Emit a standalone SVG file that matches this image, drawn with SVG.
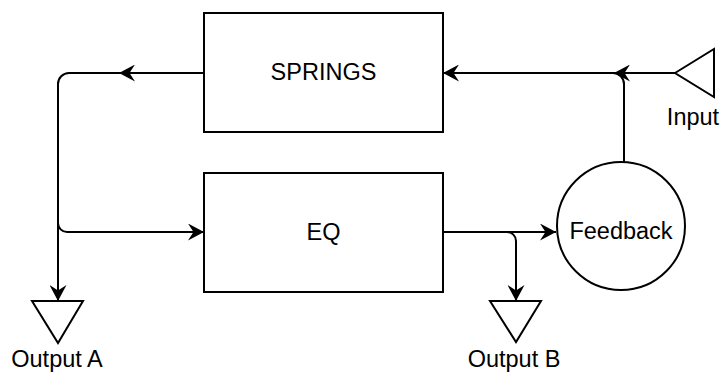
<svg xmlns="http://www.w3.org/2000/svg" width="721" height="372" viewBox="0 0 721 372">
  <style>
    .shape { fill: #ffffff; stroke: #000000; stroke-width: 2; }
    .edge { fill: none; stroke: #000000; stroke-width: 2; }
    .arrow { marker-end: url(#head); }
    .label { font-family: "Liberation Sans", Arial, sans-serif; font-size: 23.5px; fill: #000000; text-anchor: middle; }
  </style>
  <defs>
    <marker id="head" markerUnits="userSpaceOnUse" markerWidth="17" markerHeight="17" viewBox="0 0 17 17" refX="16" refY="8.5" orient="auto">
      <path d="M16,8.5 L0,0 L5.5,8.5 L0,17 Z" fill="#000000"/>
    </marker>
  </defs>

  <g id="connectors">
    <!-- SPRINGS output -->
    <path class="edge arrow" d="M204,73 H119"/>
    <path class="edge arrow" d="M204,73 H69 A11,11 0 0 0 58,84 V301"/>
    <path class="edge arrow" d="M58,223 A9,9 0 0 0 67,232 H204"/>
    <!-- Input into SPRINGS -->
    <path class="edge arrow" d="M675,73 H614"/>
    <path class="edge arrow" d="M675,73 H443"/>
    <!-- Feedback back into SPRINGS -->
    <path class="edge" d="M624,162 V84 A11,11 0 0 0 613,73 H443"/>
    <!-- EQ output -->
    <path class="edge arrow" d="M443,232 H556"/>
    <path class="edge arrow" d="M443,232 H507 A9,9 0 0 1 516,241 V301"/>
  </g>

  <g id="springs">
    <rect class="shape" x="204" y="13" width="239" height="119"/>
    <text class="label" x="323.5" y="80">SPRINGS</text>
  </g>

  <g id="eq">
    <rect class="shape" x="204" y="173" width="239" height="119"/>
    <text class="label" x="323.5" y="240">EQ</text>
  </g>

  <g id="feedback">
    <circle class="shape" cx="621" cy="226" r="64"/>
    <text class="label" x="621" y="239">Feedback</text>
  </g>

  <g id="input">
    <polygon class="shape" points="675,73 714,49 714,97"/>
    <text class="label" x="693" y="125">Input</text>
  </g>

  <g id="output-a">
    <polygon class="shape" points="32,301 83,301 58,343"/>
    <text class="label" x="57" y="367">Output A</text>
  </g>

  <g id="output-b">
    <polygon class="shape" points="490,301 541,301 516,342"/>
    <text class="label" x="514" y="367">Output B</text>
  </g>
</svg>
